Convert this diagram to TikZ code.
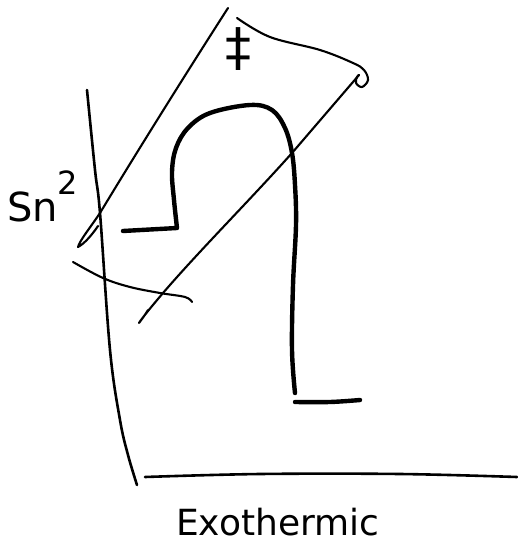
\documentclass[tikz,border=0pt]{standalone}
\usepackage{fontspec}
\setmainfont{DejaVu Sans}
\begin{document}
\begin{tikzpicture}[x=1pt,y=-1pt,
  thin stroke/.style={line width=2.1pt,line cap=round,line join=round},
  axis stroke/.style={line width=2.6pt,line cap=round,line join=round},
  thick stroke/.style={line width=4.4pt,line cap=round,line join=round},
  label text/.style={inner sep=0pt,font=\fontsize{36}{38}\selectfont}]
\useasboundingbox (0,0) rectangle (518,543);
\fill[white] (0,0) rectangle (518,543);
% axes
\draw[axis stroke] plot[smooth,tension=0.6] coordinates {(87,90) (95,170) (100,213) (110,350) (120,420) (128,455) (137,485)};
\draw[axis stroke] plot[smooth,tension=0.6] coordinates {(145,477) (260,474) (400,474) (517,477)};
% energy profile
\draw[thick stroke] (123,231) -- (177,228) -- plot[smooth,tension=0.6] coordinates {(177,228) (174,200) (172,172) (176,148) (188,128) (210,113) (250,105) (272,110) (285,128) (292,153) (295,185) (296,225) (293,285) (292,350) (295,393)};
\draw[thick stroke] plot[smooth,tension=0.6] coordinates {(295,402) (330,402) (360,400)};
% transition-state band
\draw[thin stroke] (228,8) .. controls (185,75) and (135,155) .. (100,213)
  .. controls (90,228) and (80,240) .. (78,247) .. controls (84,244) and (92,235) .. (98,226);
\draw[thin stroke] plot[smooth,tension=0.6] coordinates {(237,18) (270,37) (320,50) (353,63) (364,70) (368,80) (362,87) (356,83) (357,77) (359,75)};
\draw[thin stroke] (359,75) -- (292,153) .. controls (250,200) and (200,250) .. (163,293)
  .. controls (152,306) and (142,318) .. (139,323) .. controls (142,319) and (145,315) .. (148,310);
\draw[thin stroke] plot[smooth,tension=0.6] coordinates {(73,262) (103,278) (130,287) (160,293) (185,297) (192,302)};
% labels
\node[label text,anchor=center] (ts) at (238,49) {\fontsize{52}{52}\selectfont ‡};
\node[label text,anchor=base west] (sn) at (7,221) {\fontsize{40}{40}\selectfont Sn\raisebox{27pt}{\fontsize{32}{32}\selectfont 2}};
\node[label text,anchor=base west] (exo) at (176,535) {Exothermic};
\end{tikzpicture}
\end{document}
